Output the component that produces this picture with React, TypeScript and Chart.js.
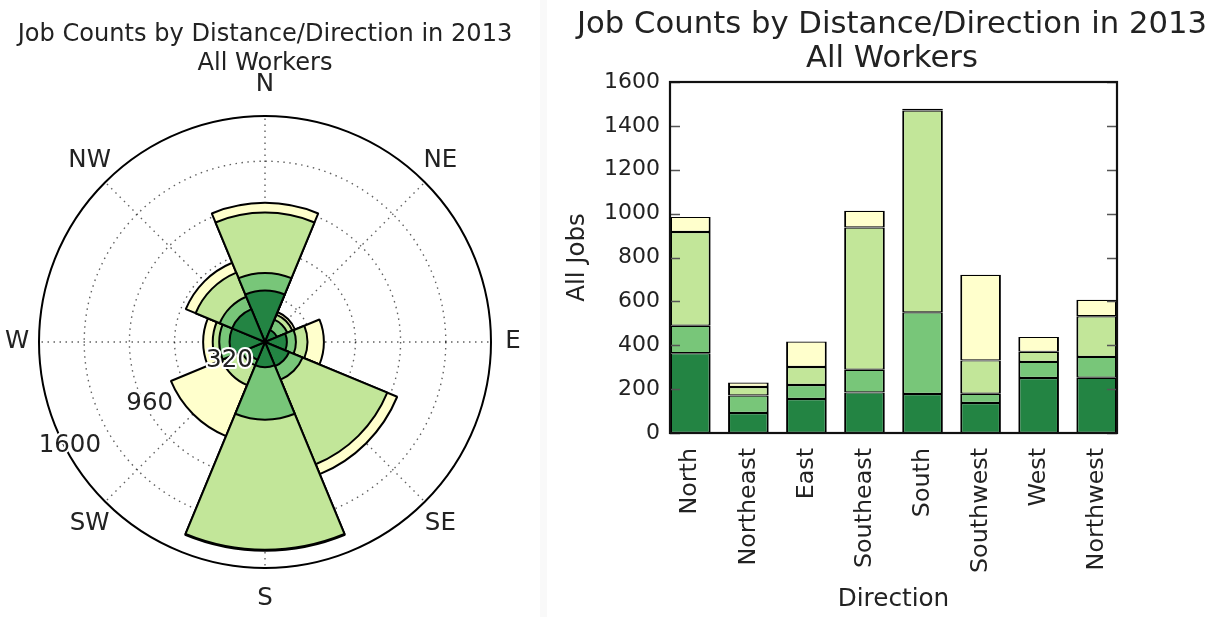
import React, { useEffect, useRef } from 'react';
import { Chart, registerables } from 'chart.js';

Chart.register(...registerables);
Chart.defaults.font.family = "'DejaVu Sans', sans-serif";
Chart.defaults.color = '#222';

// ---- data ----
const directions = ['North', 'Northeast', 'East', 'Southeast', 'South', 'Southwest', 'West', 'Northwest'];
const compassLabels = ['N', 'NE', 'E', 'SE', 'S', 'SW', 'W', 'NW'];
const distanceBands = ['Less than 10 miles', '10 to 24 miles', '25 to 50 miles', 'Greater than 50 miles'];
const lessThan10 = [364, 91, 155, 185, 178, 137, 251, 252];
const from10to24 = [125, 80, 64, 103, 372, 42, 73, 95];
const from25to50 = [427, 39, 82, 649, 920, 152, 46, 185];
const over50 = [69, 20, 116, 76, 8, 390, 68, 75];
const bandColors = ['#238443', '#78c679', '#c2e699', '#ffffcc'];
const titleLines = ['Job Counts by Distance/Direction in 2013', 'All Workers'];
const radialMax = 1600;
const radialStep = 320;
const radialLabelValues = [320, 960, 1600];
const barMax = 1600;
const barStep = 200;

const bands = [lessThan10, from10to24, from25to50, over50];

// cumulative sums for the wind rose (each ring drawn from the centre)
const cumulative = bands.map((_, k) =>
  directions.map((__, i) => bands.slice(0, k + 1).reduce((s, b) => s + b[i], 0))
);

const dotted = 'rgba(0,0,0,0.62)';

const polarDecor = {
  id: 'polarDecor',
  afterDraw(chart: any) {
    const ctx = chart.ctx;
    const r = chart.scales.r;
    const a = chart.scales.a;
    ctx.save();
    ctx.font = "24.5px 'DejaVu Sans', sans-serif";
    ctx.fillStyle = '#222';
    ctx.textAlign = 'center';
    ctx.textBaseline = 'middle';
    const labs: string[] = a.options.labels;
    labs.forEach((lab, i) => {
      const u = a.getPointPosition(i, 1);
      const dx = u.x - a.xCenter;
      const dy = u.y - a.yCenter;
      const x = a.xCenter + dx * (a.drawingArea + 22);
      const y = a.yCenter + dy * (a.drawingArea + 31);
      ctx.fillText(lab, x, y);
    });
    const ang = Math.PI - (28 * Math.PI) / 180;
    radialLabelValues.forEach((v) => {
      const d = r.getDistanceFromCenterForValue(v) - 5;
      const x = r.xCenter + Math.cos(ang) * d;
      const y = r.yCenter + Math.sin(ang) * d;
      ctx.strokeStyle = '#fff';
      ctx.lineWidth = 4;
      ctx.lineJoin = 'round';
      ctx.strokeText(String(v), x, y);
      ctx.fillText(String(v), x, y);
    });
    ctx.restore();
  },
};

const frameTicks = {
  id: 'frameTicks',
  afterDraw(chart: any) {
    const { ctx, chartArea: ca } = chart;
    const y = chart.scales.y;
    ctx.save();
    ctx.strokeStyle = '#555';
    ctx.lineWidth = 1.6;
    y.ticks.forEach((t: any) => {
      const py = Math.round(y.getPixelForValue(t.value)) + 0.5;
      ctx.beginPath();
      ctx.moveTo(ca.left, py);
      ctx.lineTo(ca.left + 10, py);
      ctx.moveTo(ca.right, py);
      ctx.lineTo(ca.right - 10, py);
      ctx.stroke();
    });
    ctx.strokeStyle = '#111';
    ctx.lineWidth = 2.2;
    ctx.strokeRect(ca.left, ca.top, ca.right - ca.left, ca.bottom - ca.top);
    ctx.restore();
  },
};

function PolarChart() {
  const ref = useRef<HTMLCanvasElement>(null);
  useEffect(() => {
    if (!ref.current) return;
    const chart = new Chart(ref.current, {
      type: 'polarArea',
      data: {
        labels: directions,
        datasets: cumulative.map((vals, k) => ({
          label: distanceBands[k],
          data: vals,
          backgroundColor: bandColors[k],
          borderColor: '#000',
          borderWidth: 2,
        })),
      },
      options: {
        responsive: false,
        animation: false,
        layout: { padding: { left: 10, right: 20, top: 0, bottom: 49 } },
        plugins: {
          legend: { display: false },
          tooltip: { enabled: false },
          title: {
            display: true,
            text: titleLines,
            color: '#222',
            font: { size: 24.1, weight: 'normal', lineHeight: 29 / 24.1 },
            padding: { top: 20, bottom: 38 },
          },
        },
        scales: {
          r: {
            type: 'radialLinear',
            min: 0,
            max: radialMax,
            startAngle: -22.5,
            z: 1,
            ticks: { display: false, stepSize: radialStep },
            pointLabels: { display: false },
            angleLines: { display: false },
            grid: {
              circular: true,
              color: (c: any) => (c.tick && c.tick.value === radialMax ? '#000' : dotted),
              lineWidth: (c: any) => (c.tick && c.tick.value === radialMax ? 2 : 1.4),
            },
            border: {
              dash: (c: any) => (c.tick && c.tick.value === radialMax ? [] : [1.5, 4.5]),
            },
          },
          a: {
            type: 'radialLinear',
            axis: 'r',
            min: 0,
            max: radialMax,
            startAngle: 0,
            labels: compassLabels,
            z: 1,
            ticks: { display: false },
            pointLabels: { display: false },
            grid: { display: false },
            angleLines: { display: true, color: dotted, lineWidth: 1.4, borderDash: [1.5, 4.5] },
          },
        } as any,
      },
      plugins: [polarDecor],
    } as any);
    return () => chart.destroy();
  }, []);
  return <canvas ref={ref} width={540} height={617} style={{ position: 'absolute', left: 0, top: 0, width: 540, height: 617 }} />;
}

function BarChart() {
  const ref = useRef<HTMLCanvasElement>(null);
  useEffect(() => {
    if (!ref.current) return;
    const chart = new Chart(ref.current, {
      type: 'bar',
      data: {
        datasets: bands.map((vals, k) => ({
          label: distanceBands[k],
          data: vals.map((v, i) => ({ x: i, y: v })),
          backgroundColor: bandColors[k],
          borderColor: '#000',
          borderWidth: { top: 1.2, bottom: 1.2, left: 2, right: 2 },
          borderSkipped: false,
          barPercentage: 0.7,
          categoryPercentage: 1,
        })),
      },
      options: {
        responsive: false,
        animation: false,
        layout: { padding: { left: 22, right: 0, top: 0, bottom: 0 } },
        plugins: {
          legend: { display: false },
          tooltip: { enabled: false },
          title: {
            display: true,
            text: titleLines,
            color: '#222',
            font: { size: 30.7, weight: 'normal', lineHeight: 34 / 30.7 },
            padding: { top: 8.5, bottom: 5.5 },
          },
        },
        scales: {
          x: {
            type: 'linear',
            stacked: true,
            offset: false,
            min: -0.35,
            max: directions.length - 1 + 0.35,
            grid: { display: false, drawTicks: false, offset: false },
            border: { display: false },
            afterBuildTicks: (s: any) => {
              s.ticks = directions.map((_, i) => ({ value: i }));
            },
            ticks: {
              callback: (v: any) => directions[v] ?? '',
              minRotation: 90,
              maxRotation: 90,
              autoSkip: false,
              padding: 15,
              color: '#222',
              font: { size: 23.8 },
            },
            title: {
              display: true,
              text: 'Direction',
              color: '#222',
              font: { size: 24.7, lineHeight: 1.2 },
              padding: { top: 0, bottom: 3 },
            },
            afterFit: (s: any) => {
              s.height = 184;
            },
          },
          y: {
            stacked: true,
            min: 0,
            max: barMax,
            ticks: {
              stepSize: barStep,
              padding: 10,
              color: '#222',
              font: { size: 22 },
              callback: (v: any) => String(v),
            },
            grid: { display: false, drawTicks: false },
            border: { display: false },
            title: {
              display: true,
              text: 'All Jobs',
              color: '#222',
              font: { size: 24.5, lineHeight: 0.9 },
              padding: { top: 0, bottom: 0 },
            },
            afterFit: (s: any) => {
              s.width = 103;
            },
          },
          y2: {
            position: 'right',
            min: 0,
            max: barMax,
            ticks: { display: false },
            grid: { display: false, drawTicks: false },
            border: { display: false },
            afterFit: (s: any) => {
              s.width = 100;
            },
          },
        } as any,
      },
      plugins: [frameTicks],
    } as any);
    return () => chart.destroy();
  }, []);
  return <canvas ref={ref} width={672} height={617} style={{ position: 'absolute', left: 545, top: 0, width: 672, height: 617 }} />;
}

export default function App() {
  return (
    <div style={{ position: 'absolute', left: 0, top: 0, width: 1217, height: 617, background: '#fff', overflow: 'hidden' }}>
      <div style={{ position: 'absolute', left: 540, top: 0, width: 7, height: 617, background: '#f9f9f9' }} />
      <PolarChart />
      <BarChart />
    </div>
  );
}
